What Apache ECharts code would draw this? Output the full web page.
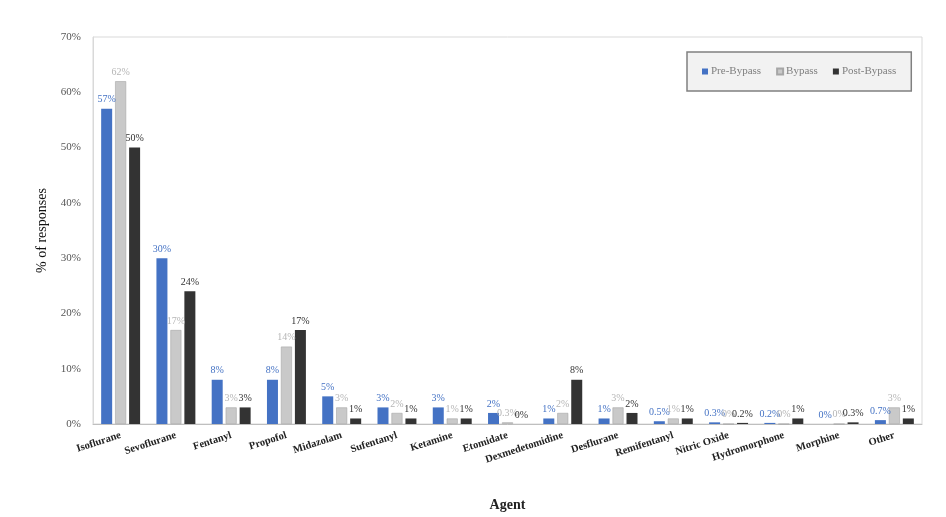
<!DOCTYPE html>
<html>
<head>
<meta charset="utf-8">
<script src="https://cdn.jsdelivr.net/npm/echarts@6/dist/echarts.min.js"></script>
<style>
html,body{margin:0;padding:0;background:#fff;}
#chart{width:946px;height:517px;}
</style>
</head>
<body>
<div id="chart"></div>
<script>
const categories = ['Isoflurane','Sevoflurane','Fentanyl','Propofol','Midazolam','Sufentanyl','Ketamine','Etomidate','Dexmedetomidine','Desflurane','Remifentanyl','Nitric Oxide','Hydromorphone','Morphine','Other'];
const preBypass  = [57, 30, 8, 8, 5, 3, 3, 2, 1, 1, 0.5, 0.3, 0.2, 0, 0.7];
const bypass     = [62, 17, 3, 14, 3, 2, 1, 0.3, 2, 3, 1, 0, 0, 0, 3];
const postBypass = [50, 24, 3, 17, 1, 1, 1, 0, 8, 2, 1, 0.2, 1, 0.3, 1];
const seriesNames = ['Pre-Bypass','Bypass','Post-Bypass'];
const yTicks = [0,10,20,30,40,50,60,70];

const serif = '"Liberation Serif","DejaVu Serif",serif';
const chart = echarts.init(document.getElementById('chart'));

function mk(name, data, color, labelColor, border) {
  return {
    name: name,
    type: 'bar',
    data: data,
    barWidth: 11,
    barGap: '27%',
    itemStyle: { color: color, borderColor: border || color, borderWidth: border ? 0.6 : 0 },
    label: {
      show: true,
      position: 'top',
      distance: 4,
      formatter: p => p.value + '%',
      fontFamily: serif,
      fontSize: 10,
      color: labelColor
    }
  };
}

chart.setOption({
  animation: false,
  backgroundColor: '#fff',
  grid: { left: 93, right: 24, top: 37, bottom: 93, outerBoundsMode: 'none', containLabel: false, show: true, borderColor: '#d9d9d9', borderWidth: 1 },
  legend: {
    data: seriesNames,
    left: 687, top: 52,
    padding: [14, 15],
    itemGap: 15,
    itemWidth: 6, itemHeight: 6,
    icon: 'rect',
    backgroundColor: '#f2f2f2',
    borderColor: '#808080',
    borderWidth: 1.5,
    textStyle: { fontFamily: serif, fontSize: 11, color: '#7f7f7f', padding: [0,0,0,-2] }
  },
  xAxis: {
    type: 'category',
    data: categories,
    name: 'Agent',
    nameLocation: 'middle',
    nameGap: 74,
    nameTextStyle: { fontFamily: serif, fontSize: 14, fontWeight: 'bold', color: '#222' },
    axisLine: { lineStyle: { color: '#bfbfbf' } },
    axisTick: { show: false },
    axisLabel: { rotate: 18, interval: 0, fontFamily: serif, fontSize: 10.5, fontWeight: 'bold', color: '#222', margin: 11 }
  },
  yAxis: {
    type: 'value',
    min: yTicks[0], max: yTicks[yTicks.length-1], interval: 10,
    name: '% of responses',
    nameLocation: 'middle',
    nameGap: 44,
    nameTextStyle: { fontFamily: serif, fontSize: 14, color: '#111' },
    axisLine: { show: true, lineStyle: { color: '#d9d9d9' } },
    axisTick: { show: false },
    splitLine: { show: false },
    axisLabel: { formatter: '{value}%', fontFamily: serif, fontSize: 11, color: '#555', margin: 12 }
  },
  series: [
    mk(seriesNames[0], preBypass, '#4472c4', '#4472c4'),
    mk(seriesNames[1], bypass, '#c9c9c9', '#b5b5b5', '#a6a6a6'),
    mk(seriesNames[2], postBypass, '#333333', '#333333')
  ]
});
</script>
</body>
</html>
